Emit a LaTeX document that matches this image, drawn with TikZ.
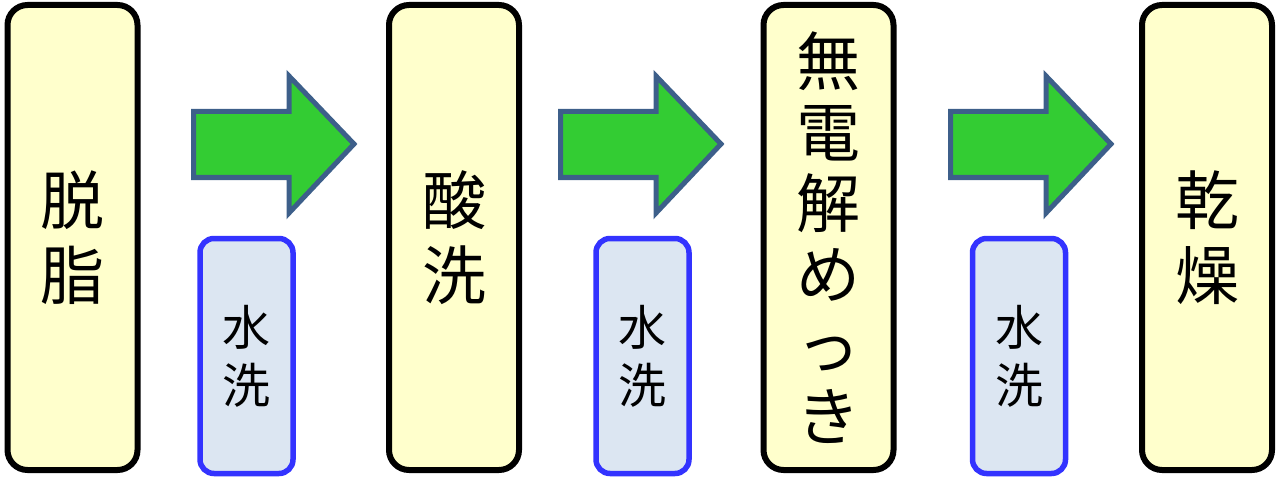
\documentclass[tikz,border=0pt]{standalone}
\usepackage{fontspec}
\usepackage{tikz}
\newfontfamily\jpfont{Noto Sans CJK JP}

\definecolor{stepyellow}{HTML}{FFFFCC}
\definecolor{washfill}{HTML}{DCE6F2}
\definecolor{washline}{HTML}{3333FF}
\definecolor{arrowgreen}{HTML}{33CC33}
\definecolor{arrowline}{HTML}{3D5F8A}

\tikzset{
    stepbox/.style={draw=black, fill=stepyellow, line width=6pt, rounded corners=20pt,
        minimum width=130pt, minimum height=465pt, inner sep=0pt, align=center,
        font=\jpfont\fontsize{64}{75}\selectfont},
    washbox/.style={draw=washline, fill=washfill, line width=5.5pt, rounded corners=14pt,
        minimum width=93pt, minimum height=235pt, inner sep=0pt, align=center,
        font=\jpfont\fontsize{48}{58}\selectfont},
    flowarrow/.style={draw=arrowline, fill=arrowgreen, line width=5pt, miter limit=4}
}

\begin{document}
\begin{tikzpicture}[x=1pt, y=-1pt]
    \useasboundingbox (0, 0) rectangle (1280, 484);

    % process steps
    \node[stepbox] (degrease) at (72.5, 237.5) {脱\\脂};
    \node[stepbox] (pickle) at (454, 237.5) {酸\\洗};
    \node[stepbox, font=\jpfont\fontsize{64}{71}\selectfont] (plating) at (828.5, 237.5) {無\\電\\解\\め\\っ\\き};
    \node[stepbox] (dry) at (1207, 237.5) {乾\\燥};

    % rinsing
    \node[washbox] (rinse1) at (246.5, 356) {水\\洗};
    \node[washbox] (rinse2) at (642.5, 356) {水\\洗};
    \node[washbox] (rinse3) at (1019, 356) {水\\洗};

    % arrow 1
    \coordinate (A1) at (193.5, 111.5);
    \coordinate (A2) at (289, 111.5);
    \coordinate (A3) at (289, 76);
    \coordinate (A4) at (354, 144);
    \coordinate (A5) at (289, 213);
    \coordinate (A6) at (289, 177.5);
    \coordinate (A7) at (193.5, 177.5);
    \draw[flowarrow] (A1) -- (A2) -- (A3) -- (A4) -- (A5) -- (A6) -- (A7) -- cycle;

    % arrow 2
    \coordinate (B1) at (560.5, 111.5);
    \coordinate (B2) at (656, 111.5);
    \coordinate (B3) at (656, 76);
    \coordinate (B4) at (721, 144);
    \coordinate (B5) at (656, 213);
    \coordinate (B6) at (656, 177.5);
    \coordinate (B7) at (560.5, 177.5);
    \draw[flowarrow] (B1) -- (B2) -- (B3) -- (B4) -- (B5) -- (B6) -- (B7) -- cycle;

    % arrow 3
    \coordinate (C1) at (950.5, 111.5);
    \coordinate (C2) at (1046, 111.5);
    \coordinate (C3) at (1046, 76);
    \coordinate (C4) at (1111, 144);
    \coordinate (C5) at (1046, 213);
    \coordinate (C6) at (1046, 177.5);
    \coordinate (C7) at (950.5, 177.5);
    \draw[flowarrow] (C1) -- (C2) -- (C3) -- (C4) -- (C5) -- (C6) -- (C7) -- cycle;

\end{tikzpicture}
\end{document}
